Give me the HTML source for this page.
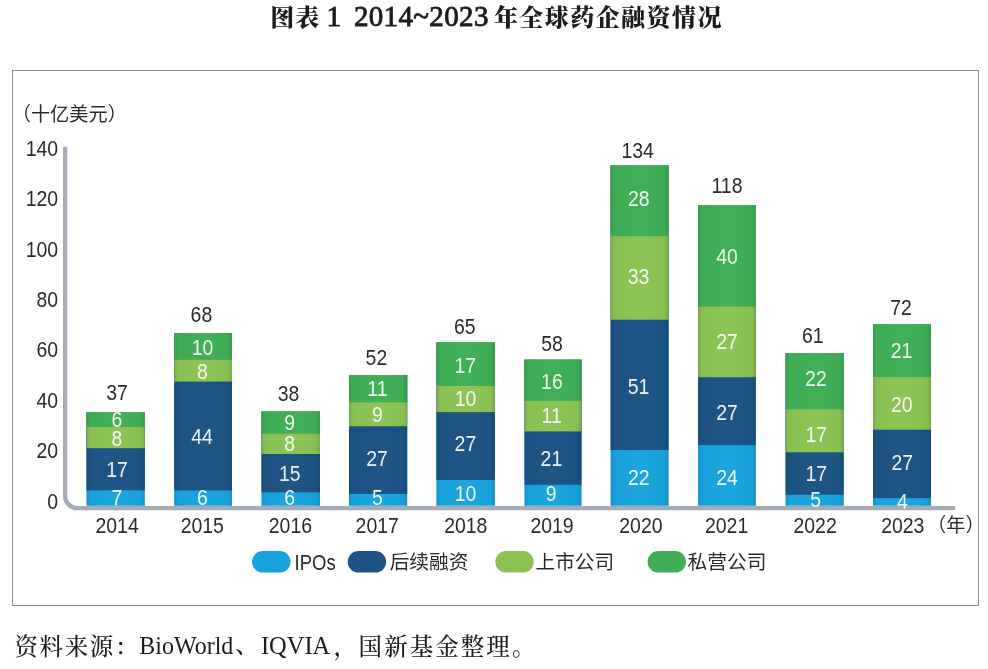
<!DOCTYPE html>
<html lang="zh-CN">
<head>
<meta charset="utf-8">
<title>图表 1 2014~2023 年全球药企融资情况</title>
<style>
html,body{margin:0;padding:0;background:#fff;}
body{width:988px;height:669px;position:relative;overflow:hidden;}
.title{position:absolute;left:0;top:0;width:988px;height:40px;margin:0;font-family:"Liberation Serif","Noto Serif CJK SC",serif;font-weight:bold;color:#1c1c1c;white-space:nowrap;}
.title span{position:absolute;white-space:pre;}
.title .cjk{font-size:24px;line-height:24px;letter-spacing:1.44px;font-weight:900;}
.title .lat{font-size:29px;line-height:29px;letter-spacing:0.35px;font-weight:400;-webkit-text-stroke:0.85px #1c1c1c;}
.frame{position:absolute;left:12px;top:70px;width:965px;height:534px;border:1px solid #8d8d8d;box-sizing:content-box;}
.source{position:absolute;left:0;top:0;margin:0;font-family:"Liberation Serif","Noto Serif CJK SC",serif;font-weight:300;color:#1c1c1c;white-space:nowrap;}
.source span{position:absolute;white-space:pre;top:630px;line-height:32px;height:32px;}
.source .c{font-size:23.5px;letter-spacing:1.6px;font-weight:500;top:630.5px;}
.source .l{font-weight:400;transform:scaleY(1.07);transform-origin:0 24px;}
svg{position:absolute;left:0;top:0;}
svg text{font-family:"Liberation Sans","Noto Sans CJK SC",sans-serif;}
.w{fill:#fff;fill-opacity:.93;text-anchor:middle;}
.k{fill:#2a2a2a;text-anchor:middle;}
</style>
</head>
<body>
<h1 class="title"><span class="cjk" style="left:270.3px;top:5.7px;letter-spacing:1px">图表 </span><span class="lat" style="left:326.4px;top:2.1px">1 </span><span class="lat" style="left:353.9px;top:2.1px">2014~2023 </span><span class="cjk" style="left:493.9px;top:5.7px">年全球药企融资情况</span></h1>
<div class="frame"></div>
<svg width="988" height="669" viewBox="0 0 988 669">
<defs><linearGradient id="edge" x1="0" y1="0" x2="1" y2="0"><stop offset="0" stop-color="#001a10" stop-opacity="0.12"/><stop offset="0.07" stop-color="#001a10" stop-opacity="0.02"/><stop offset="0.5" stop-color="#ffffff" stop-opacity="0.015"/><stop offset="0.93" stop-color="#001a10" stop-opacity="0.03"/><stop offset="1" stop-color="#001a10" stop-opacity="0.14"/></linearGradient><filter id="soft" x="-5%" y="-5%" width="110%" height="110%"><feGaussianBlur stdDeviation="0.55"/></filter></defs>
<text class="k" x="69.3" y="121.3" font-size="19.2">（十亿美元）</text>
<text transform="translate(58.1 508.6) scale(0.972 1.1)" font-size="20" fill="#2a2a2a" text-anchor="end">0</text>
<text transform="translate(58.1 458.2) scale(0.972 1.1)" font-size="20" fill="#2a2a2a" text-anchor="end">20</text>
<text transform="translate(58.1 407.8) scale(0.972 1.1)" font-size="20" fill="#2a2a2a" text-anchor="end">40</text>
<text transform="translate(58.1 357.4) scale(0.972 1.1)" font-size="20" fill="#2a2a2a" text-anchor="end">60</text>
<text transform="translate(58.1 307.0) scale(0.972 1.1)" font-size="20" fill="#2a2a2a" text-anchor="end">80</text>
<text transform="translate(58.1 256.6) scale(0.972 1.1)" font-size="20" fill="#2a2a2a" text-anchor="end">100</text>
<text transform="translate(58.1 206.2) scale(0.972 1.1)" font-size="20" fill="#2a2a2a" text-anchor="end">120</text>
<text transform="translate(58.1 155.8) scale(0.972 1.1)" font-size="20" fill="#2a2a2a" text-anchor="end">140</text>
<path d="M65.15 148.6 V496.15 A12 12 0 0 0 77.15 508.15 H953.4" fill="none" stroke="#a3acb7" stroke-width="4.3" stroke-linecap="round" filter="url(#soft)"/>
<g>
<rect x="86.5" y="412.4" width="58.3" height="93.4" fill="#18a3de"/>
<rect x="86.5" y="412.4" width="58.3" height="77.9" fill="#1c5384"/>
<rect x="86.5" y="412.4" width="58.3" height="35.8" fill="#8cc253"/>
<rect x="86.5" y="412.4" width="58.3" height="14.6" fill="#3fae56"/>
<rect x="86.5" y="412.4" width="58.3" height="93.4" fill="url(#edge)"/>
<text class="w" transform="translate(117.0 427.1) scale(0.972 1.1)" font-size="20">6</text>
<text class="w" transform="translate(117.0 445.6) scale(0.972 1.1)" font-size="20">8</text>
<text class="w" transform="translate(117.1 477.4) scale(0.972 1.1)" font-size="20">17</text>
<text class="w" transform="translate(117.0 505.2) scale(0.972 1.1)" font-size="20">7</text>
<text class="k" transform="translate(117.0 400.4) scale(0.972 1.1)" font-size="20">37</text>
<text class="k" transform="translate(117.1 533.3) scale(0.972 1.1)" font-size="20">2014</text>
</g>
<g>
<rect x="174.2" y="333.2" width="57.8" height="172.6" fill="#18a3de"/>
<rect x="174.2" y="333.2" width="57.8" height="157.2" fill="#1c5384"/>
<rect x="174.2" y="333.2" width="57.8" height="48.4" fill="#8cc253"/>
<rect x="174.2" y="333.2" width="57.8" height="26.6" fill="#3fae56"/>
<rect x="174.2" y="333.2" width="57.8" height="172.6" fill="url(#edge)"/>
<text class="w" transform="translate(202.6 354.8) scale(0.972 1.1)" font-size="20">10</text>
<text class="w" transform="translate(202.3 378.9) scale(0.972 1.1)" font-size="20">8</text>
<text class="w" transform="translate(202.0 444.2) scale(0.972 1.1)" font-size="20">44</text>
<text class="w" transform="translate(202.3 505.3) scale(0.972 1.1)" font-size="20">6</text>
<text class="k" transform="translate(201.4 321.8) scale(0.972 1.1)" font-size="20">68</text>
<text class="k" transform="translate(202.3 533.3) scale(0.972 1.1)" font-size="20">2015</text>
</g>
<g>
<rect x="261.5" y="411.6" width="58.5" height="94.2" fill="#18a3de"/>
<rect x="261.5" y="411.6" width="58.5" height="80.7" fill="#1c5384"/>
<rect x="261.5" y="411.6" width="58.5" height="42.4" fill="#8cc253"/>
<rect x="261.5" y="411.6" width="58.5" height="22.1" fill="#3fae56"/>
<rect x="261.5" y="411.6" width="58.5" height="94.2" fill="url(#edge)"/>
<text class="w" transform="translate(289.7 430.2) scale(0.972 1.1)" font-size="20">9</text>
<text class="w" transform="translate(289.7 451.3) scale(0.972 1.1)" font-size="20">8</text>
<text class="w" transform="translate(289.8 481.1) scale(0.972 1.1)" font-size="20">15</text>
<text class="w" transform="translate(289.7 505.2) scale(0.972 1.1)" font-size="20">6</text>
<text class="k" transform="translate(288.6 400.5) scale(0.972 1.1)" font-size="20">38</text>
<text class="k" transform="translate(290.4 533.3) scale(0.972 1.1)" font-size="20">2016</text>
</g>
<g>
<rect x="349.0" y="375.0" width="58.2" height="130.8" fill="#18a3de"/>
<rect x="349.0" y="375.0" width="58.2" height="118.9" fill="#1c5384"/>
<rect x="349.0" y="375.0" width="58.2" height="51.2" fill="#8cc253"/>
<rect x="349.0" y="375.0" width="58.2" height="27.4" fill="#3fae56"/>
<rect x="349.0" y="375.0" width="58.2" height="130.8" fill="url(#edge)"/>
<text class="w" transform="translate(377.4 396.4) scale(0.972 1.1)" font-size="20">11</text>
<text class="w" transform="translate(377.3 422.1) scale(0.972 1.1)" font-size="20">9</text>
<text class="w" transform="translate(377.0 466.1) scale(0.972 1.1)" font-size="20">27</text>
<text class="w" transform="translate(377.3 505.2) scale(0.972 1.1)" font-size="20">5</text>
<text class="k" transform="translate(376.4 365.3) scale(0.972 1.1)" font-size="20">52</text>
<text class="k" transform="translate(377.2 533.3) scale(0.972 1.1)" font-size="20">2017</text>
</g>
<g>
<rect x="436.4" y="342.2" width="58.5" height="163.6" fill="#18a3de"/>
<rect x="436.4" y="342.2" width="58.5" height="137.8" fill="#1c5384"/>
<rect x="436.4" y="342.2" width="58.5" height="69.9" fill="#8cc253"/>
<rect x="436.4" y="342.2" width="58.5" height="43.8" fill="#3fae56"/>
<rect x="436.4" y="342.2" width="58.5" height="163.6" fill="url(#edge)"/>
<text class="w" transform="translate(465.3 372.8) scale(0.972 1.1)" font-size="20">17</text>
<text class="w" transform="translate(465.6 406.1) scale(0.972 1.1)" font-size="20">10</text>
<text class="w" transform="translate(465.4 451.2) scale(0.972 1.1)" font-size="20">27</text>
<text class="w" transform="translate(465.6 501.2) scale(0.972 1.1)" font-size="20">10</text>
<text class="k" transform="translate(464.8 334.2) scale(0.972 1.1)" font-size="20">65</text>
<text class="k" transform="translate(465.8 533.3) scale(0.972 1.1)" font-size="20">2018</text>
</g>
<g>
<rect x="524.5" y="359.7" width="57.0" height="146.1" fill="#18a3de"/>
<rect x="524.5" y="359.7" width="57.0" height="125.1" fill="#1c5384"/>
<rect x="524.5" y="359.7" width="57.0" height="71.7" fill="#8cc253"/>
<rect x="524.5" y="359.7" width="57.0" height="41.4" fill="#3fae56"/>
<rect x="524.5" y="359.7" width="57.0" height="146.1" fill="url(#edge)"/>
<text class="w" transform="translate(551.9 388.9) scale(0.972 1.1)" font-size="20">16</text>
<text class="w" transform="translate(551.6 422.9) scale(0.972 1.1)" font-size="20">11</text>
<text class="w" transform="translate(551.4 466.2) scale(0.972 1.1)" font-size="20">21</text>
<text class="w" transform="translate(551.2 501.4) scale(0.972 1.1)" font-size="20">9</text>
<text class="k" transform="translate(552.0 350.6) scale(0.972 1.1)" font-size="20">58</text>
<text class="k" transform="translate(552.0 533.3) scale(0.972 1.1)" font-size="20">2019</text>
</g>
<g>
<rect x="610.6" y="165.5" width="58.0" height="340.3" fill="#18a3de"/>
<rect x="610.6" y="165.5" width="58.0" height="284.5" fill="#1c5384"/>
<rect x="610.6" y="165.5" width="58.0" height="154.2" fill="#8cc253"/>
<rect x="610.6" y="165.5" width="58.0" height="70.7" fill="#3fae56"/>
<rect x="610.6" y="165.5" width="58.0" height="340.3" fill="url(#edge)"/>
<text class="w" transform="translate(638.8 206.0) scale(0.972 1.1)" font-size="20">28</text>
<text class="w" transform="translate(638.6 284.1) scale(0.972 1.1)" font-size="20">33</text>
<text class="w" transform="translate(638.6 393.8) scale(0.972 1.1)" font-size="20">51</text>
<text class="w" transform="translate(638.8 484.6) scale(0.972 1.1)" font-size="20">22</text>
<text class="k" transform="translate(637.6 158.3) scale(0.972 1.1)" font-size="20">134</text>
<text class="k" transform="translate(640.9 533.3) scale(0.972 1.1)" font-size="20">2020</text>
</g>
<g>
<rect x="698.1" y="205.4" width="57.7" height="300.4" fill="#18a3de"/>
<rect x="698.1" y="205.4" width="57.7" height="239.7" fill="#1c5384"/>
<rect x="698.1" y="205.4" width="57.7" height="171.8" fill="#8cc253"/>
<rect x="698.1" y="205.4" width="57.7" height="101.1" fill="#3fae56"/>
<rect x="698.1" y="205.4" width="57.7" height="300.4" fill="url(#edge)"/>
<text class="w" transform="translate(727.0 264.2) scale(0.972 1.1)" font-size="20">40</text>
<text class="w" transform="translate(727.0 349.3) scale(0.972 1.1)" font-size="20">27</text>
<text class="w" transform="translate(727.0 419.6) scale(0.972 1.1)" font-size="20">27</text>
<text class="w" transform="translate(727.0 484.6) scale(0.972 1.1)" font-size="20">24</text>
<text class="k" transform="translate(727.0 193.4) scale(0.972 1.1)" font-size="20">118</text>
<text class="k" transform="translate(726.6 533.3) scale(0.972 1.1)" font-size="20">2021</text>
</g>
<g>
<rect x="785.6" y="353.1" width="58.1" height="152.7" fill="#18a3de"/>
<rect x="785.6" y="353.1" width="58.1" height="141.6" fill="#1c5384"/>
<rect x="785.6" y="353.1" width="58.1" height="99.2" fill="#8cc253"/>
<rect x="785.6" y="353.1" width="58.1" height="56.2" fill="#3fae56"/>
<rect x="785.6" y="353.1" width="58.1" height="152.7" fill="url(#edge)"/>
<text class="w" transform="translate(815.9 386.3) scale(0.972 1.1)" font-size="20">22</text>
<text class="w" transform="translate(816.3 441.9) scale(0.972 1.1)" font-size="20">17</text>
<text class="w" transform="translate(816.3 481.2) scale(0.972 1.1)" font-size="20">17</text>
<text class="w" transform="translate(815.7 507.1) scale(0.972 1.1)" font-size="20">5</text>
<text class="k" transform="translate(812.8 343.0) scale(0.972 1.1)" font-size="20">61</text>
<text class="k" transform="translate(815.1 533.3) scale(0.972 1.1)" font-size="20">2022</text>
</g>
<g>
<rect x="873.0" y="324.2" width="58.0" height="181.6" fill="#18a3de"/>
<rect x="873.0" y="324.2" width="58.0" height="173.9" fill="#1c5384"/>
<rect x="873.0" y="324.2" width="58.0" height="105.5" fill="#8cc253"/>
<rect x="873.0" y="324.2" width="58.0" height="53.0" fill="#3fae56"/>
<rect x="873.0" y="324.2" width="58.0" height="181.6" fill="url(#edge)"/>
<text class="w" transform="translate(901.6 358.1) scale(0.972 1.1)" font-size="20">21</text>
<text class="w" transform="translate(901.8 412.4) scale(0.972 1.1)" font-size="20">20</text>
<text class="w" transform="translate(902.2 469.8) scale(0.972 1.1)" font-size="20">27</text>
<text class="w" transform="translate(902.3 509.4) scale(0.972 1.1)" font-size="20">4</text>
<text class="k" transform="translate(901.0 314.6) scale(0.972 1.1)" font-size="20">72</text>
<text class="k" transform="translate(902.8 533.3) scale(0.972 1.1)" font-size="20">2023</text>
</g>
<text class="k" x="955.8" y="531.7" font-size="19.2">（年）</text>
<rect x="252.1" y="551" width="38.4" height="21.6" rx="10.8" fill="#18a3de"/>
<text transform="translate(294.6 569.6) scale(0.925 1.085)" font-size="20" fill="#2a2a2a">IPOs</text>
<rect x="347.7" y="551" width="38.4" height="21.6" rx="10.8" fill="#1c5384"/>
<text x="389.7" y="569.4" font-size="19.7" fill="#2a2a2a">后续融资</text>
<rect x="495.3" y="551" width="38.4" height="21.6" rx="10.8" fill="#8cc253"/>
<text x="535.5" y="569.4" font-size="19.7" fill="#2a2a2a">上市公司</text>
<rect x="647.6" y="551" width="38.4" height="21.6" rx="10.8" fill="#3fae56"/>
<text x="687.6" y="569.4" font-size="19.7" fill="#2a2a2a">私营公司</text>
</svg>
<p class="source"><span class="c" style="left:14.5px">资料来源：</span><span class="l" style="left:139.3px;font-size:24px">BioWorld</span><span class="c" style="left:235.2px;top:628.6px">、</span><span class="l" style="left:260.9px;font-size:24.5px">IQVIA</span><span class="c" style="left:333.5px">，</span><span class="c" style="left:358.6px;letter-spacing:2.05px">国新基金整理。</span></p>
</body>
</html>
